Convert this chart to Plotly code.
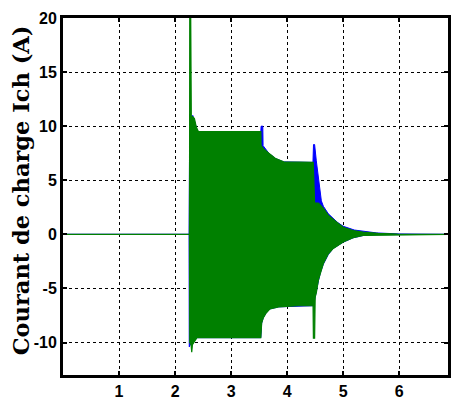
import plotly.graph_objects as go

# Envelope of the charging current (green) and of the second current trace (blue)
green_x_upper = [0, 2.257, 2.262, 2.278, 2.29, 2.31, 2.345, 2.38, 2.416, 3.53, 3.535, 3.58, 3.673, 3.796, 3.938, 4.20, 4.465, 4.49, 4.558, 4.646, 4.735, 4.912, 5.0, 5.177, 5.354, 5.62, 5.97, 6.87]
green_y_upper = [0, 0, 21, 21, 10.5, 10.9, 10.7, 9.9, 9.5, 9.5, 8.2, 7.9, 7.5, 7.0, 6.7, 6.65, 6.65, 2.9, 2.9, 2.4, 1.75, 1.0, 0.65, 0.35, 0.2, 0.1, 0.03, 0]
green_x_lower = [0, 2.257, 2.262, 2.285, 2.297, 2.31, 2.39, 3.53, 3.545, 3.575, 3.62, 3.69, 3.85, 4.20, 4.462, 4.468, 4.49, 4.50, 4.52, 4.558, 4.593, 4.646, 4.735, 4.823, 5.0, 5.177, 5.354, 5.6, 6.87]
green_y_lower = [0, 0, -10.0, -10.2, -10.9, -10.2, -9.55, -9.55, -8.2, -7.7, -7.3, -6.9, -6.7, -6.6, -6.6, -9.6, -9.6, -5.8, -5.4, -4.2, -3.5, -2.7, -1.8, -1.3, -0.7, -0.3, -0.1, -0.03, 0]

blue_x_upper = [0, 2.25, 2.26, 2.30, 2.315, 2.35, 2.40, 3.53, 3.535, 3.565, 3.57, 3.673, 3.796, 3.938, 4.46, 4.47, 4.49, 4.52, 4.558, 4.61, 4.646, 4.735, 4.9, 5.0, 5.2, 5.4, 5.6, 6.0, 6.87]
blue_y_upper = [0, 0, 9.7, 10.8, 11.0, 10.4, 9.5, 9.5, 10.0, 10.0, 8.2, 7.5, 7.0, 6.7, 6.65, 8.3, 8.3, 6.8, 5.0, 3.1, 2.6, 1.9, 1.1, 0.75, 0.4, 0.23, 0.13, 0.04, 0]
blue_x_lower = [0, 2.25, 2.253, 2.262, 2.28, 2.40, 3.53, 3.545, 3.575, 3.62, 3.69, 3.85, 4.44, 4.47, 4.50, 4.558, 4.593, 4.646, 4.735, 4.823, 5.0, 5.177, 5.354, 5.6, 6.87]
blue_y_lower = [0, 0, -10.4, -10.4, -10.1, -9.55, -9.55, -8.2, -7.7, -7.3, -6.9, -6.7, -6.6, -6.6, -5.8, -4.3, -3.55, -2.75, -1.85, -1.3, -0.72, -0.32, -0.11, -0.03, 0]

x_ticks = [1, 2, 3, 4, 5, 6]
y_ticks = [-10, -5, 0, 5, 10, 15, 20]
y_title = "Courant de charge Ich (A)"

BLUE = "#0000FF"
GREEN = "#008000"

fig = go.Figure()
fig.add_trace(go.Scatter(
    x=blue_x_upper + blue_x_lower[::-1],
    y=blue_y_upper + blue_y_lower[::-1],
    mode="lines", fill="toself", fillcolor=BLUE,
    line=dict(color=BLUE, width=1), hoverinfo="skip", showlegend=False))
fig.add_trace(go.Scatter(
    x=green_x_upper + green_x_lower[::-1],
    y=green_y_upper + green_y_lower[::-1],
    mode="lines", fill="toself", fillcolor=GREEN,
    line=dict(color=GREEN, width=1.2), hoverinfo="skip", showlegend=False))

axis_font = dict(family="Liberation Sans, Arial, sans-serif", size=16, color="black")
fig.update_layout(
    width=451, height=401,
    margin=dict(l=63, r=0, t=18, b=26),
    plot_bgcolor="white", paper_bgcolor="white",
    showlegend=False,
    xaxis=dict(
        range=[0, 6.87], tickvals=x_ticks, ticktext=[f"<b>{v}</b>" for v in x_ticks],
        showline=True, linewidth=3, linecolor="black", mirror="ticks",
        ticks="inside", ticklen=4, tickwidth=2, tickcolor="black",
        showgrid=True, gridcolor="black", gridwidth=1, griddash="dot",
        zeroline=False, tickfont=axis_font,
    ),
    yaxis=dict(
        range=[-13, 20], tickvals=y_ticks, ticktext=[f"<b>{v}</b>" for v in y_ticks],
        showline=True, linewidth=3, linecolor="black", mirror="ticks",
        ticks="inside", ticklen=4, tickwidth=2, tickcolor="black",
        showgrid=True, gridcolor="black", gridwidth=1, griddash="dot",
        zeroline=False, tickfont=axis_font,
    ),
    annotations=[dict(
        text=f"<b>{y_title}</b>", textangle=-90,
        xref="paper", yref="paper", x=(21 - 63) / 388, y=(375 - 190) / 357,
        xanchor="center", yanchor="middle", showarrow=False,
        font=dict(family="DejaVu Serif, serif", size=22.5, color="black"),
    )],
)

fig.write_html("out.html", config={"displayModeBar": False},
               post_script="document.body.style.margin='0px';")
